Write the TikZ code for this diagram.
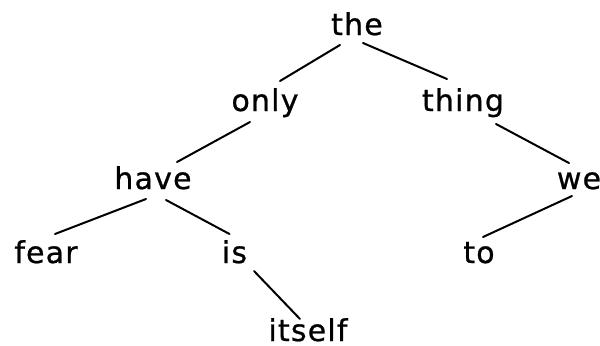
\documentclass[tikz,border=0pt]{standalone}
\usepackage{fontspec}
\setmainfont{DejaVu Sans}[LetterSpace=4,FakeBold=0.8]
\usepackage{tikz}
\usetikzlibrary{calc}
\newcommand{\branch}[4]{%
  \draw[br] ($(#1.base)+(#2)$) -- ($(#3.base)+(#4)$);}
\tikzset{
  word/.style={anchor=base, inner sep=0pt, font=\fontsize{15}{18}\selectfont},
  br/.style={line width=1pt, line cap=round},
}

\begin{document}
\begin{tikzpicture}[x=0.5pt, y=-0.5pt]
\useasboundingbox (0,0) rectangle (600,345);
% words, one row per level
\node[word] (the) at (357,35) {the};
\node[word] (only) at (265,111) {only};
\node[word] (thing) at (463,111) {thing};
\node[word] (have) at (153,189) {have};
\node[word] (we) at (579,189) {we};
\node[word] (fear) at (46,263) {fear};
\node[word] (is) at (234.5,263) {is};
\node[word] (to) at (479,263) {to};
\node[word] (itself) at (308,341) {itself};
% branches
\branch{the}{-17,10}{only}{15,-30}
\branch{the}{6,8}{thing}{-16,-32}
\branch{only}{-15,11}{have}{24,-27}
\branch{thing}{33,13}{we}{-10,-26}
\branch{have}{-7,10}{fear}{9,-29}
\branch{have}{13,11}{is}{-5,-29}
\branch{we}{-7,7}{to}{4,-26}
\branch{is}{19.5,8}{itself}{-8,-22}
\end{tikzpicture}
\end{document}
